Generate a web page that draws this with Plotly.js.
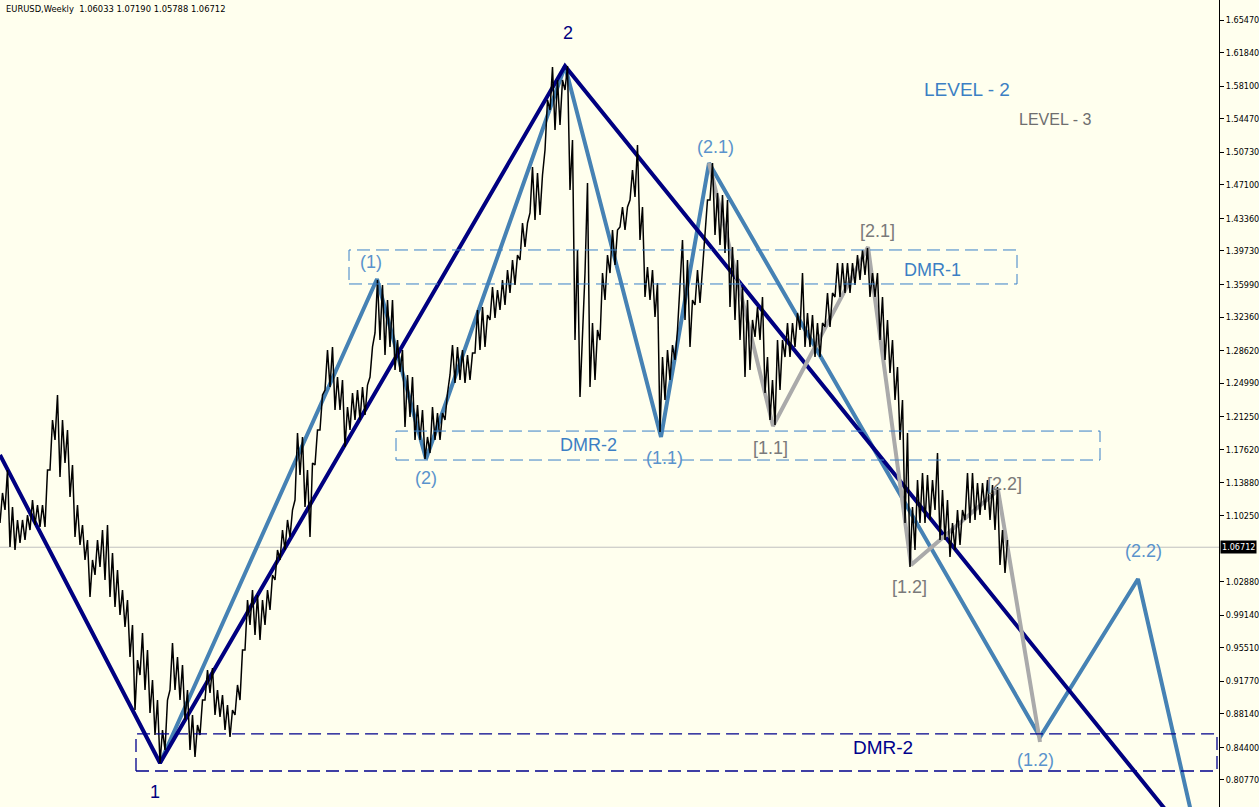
<!DOCTYPE html>
<html>
<head>
<meta charset="utf-8">
<script src="https://cdn.plot.ly/plotly-3.0.1.min.js"></script>
<style>html,body{margin:0;padding:0;background:#FFFFEE;}#chart{width:1259px;height:807px;}</style>
</head>
<body>
<div id="chart"></div>
<script>
// ---- weekly EURUSD price ranges, sampled every 5 weeks (high / low) ----
const priceHigh = [
1.1276,1.1532,1.1119,1.0975,1.0975,1.1030,1.1197,1.1142,1.1142,1.1532,
1.2089,1.2368,1.2089,1.1978,1.1588,1.1142,1.0919,1.0752,1.0529,1.0752,
1.0863,1.0919,1.0607,1.0417,1.0194,1.0083,0.9804,0.9414,0.9715,0.9526,
0.9191,0.8968,0.8634,0.8968,0.9604,0.9448,0.9359,0.9080,0.8801,0.8690,
0.8968,0.9303,0.9325,0.9080,0.9024,0.8913,0.8857,0.9136,0.9526,1.0083,
1.0194,1.0139,1.0083,1.0194,1.0362,1.0640,1.0863,1.0975,1.1086,1.1944,
1.1900,1.1532,1.1610,1.1978,1.2368,1.2869,1.2903,1.2568,1.2535,1.2234,
1.2390,1.2423,1.2457,1.2479,1.2903,1.3649,1.3594,1.3426,1.3426,1.2981,
1.2869,1.2591,1.2568,1.2256,1.2201,1.1900,1.2234,1.2167,1.2167,1.2390,
1.2925,1.2903,1.2869,1.2814,1.2836,1.3315,1.3348,1.3259,1.3571,1.3538,
1.3649,1.3761,1.3872,1.3928,1.4285,1.4285,1.4909,1.4842,1.4820,1.5655,
1.6023,1.5878,1.5878,1.6034,1.5210,1.3984,1.2981,1.4730,1.3170,1.3092,
1.3727,1.3928,1.4207,1.4207,1.4463,1.4463,1.4875,1.5154,1.4463,1.3794,
1.3761,1.3616,1.2791,1.2869,1.2925,1.3092,1.4095,1.3872,1.3426,1.3761,
1.3794,1.4541,1.4953,1.4619,1.4597,1.4541,1.4017,1.3872,1.3571,1.3426,
1.3204,1.3348,1.3460,1.2791,1.2535,1.2981,1.2981,1.3170,1.3170,1.3282,
1.3727,1.3282,1.3259,1.3170,1.3170,1.3505,1.3505,1.3839,1.3839,1.3839,
1.3839,1.3928,1.3984,1.4006,1.3727,1.3727,1.3460,1.3204,1.2981,1.2680,
1.2312,1.1944,1.1119,1.1420,1.1498,1.1476,1.1420,1.1721,1.1309,1.1197,
1.0941,1.1086,1.1086,1.1498,1.1498,1.1387,1.1387,1.1420,1.1365,1.1342,
1.0863,1.0752
];
const priceLow = [
1.0941,1.1086,1.0674,1.0640,1.0718,1.0752,1.0863,1.0919,1.0897,1.0897,
1.1532,1.1866,1.1454,1.1610,1.1231,1.0785,1.0696,1.0529,1.0116,1.0362,
1.0451,1.0306,1.0116,1.0005,0.9916,0.9782,0.9448,0.8857,0.9247,0.9080,
0.8824,0.8578,0.8266,0.8411,0.9080,0.9080,0.8968,0.8746,0.8411,0.8333,
0.8578,0.8968,0.9047,0.8801,0.8779,0.8634,0.8556,0.8801,0.8968,0.9526,
0.9804,0.9693,0.9637,0.9804,0.9972,1.0306,1.0529,1.0640,1.0785,1.1197,
1.1476,1.1119,1.0785,1.1588,1.1978,1.2423,1.2457,1.2201,1.2201,1.1788,
1.1978,1.2089,1.2089,1.2145,1.2568,1.3059,1.2981,1.2814,1.2903,1.2646,
1.2624,1.2011,1.2123,1.1866,1.1866,1.1654,1.1721,1.1866,1.1866,1.2089,
1.2591,1.2501,1.2535,1.2501,1.2535,1.2836,1.2869,1.2903,1.3204,1.3226,
1.3315,1.3371,1.3505,1.3594,1.3872,1.4017,1.4396,1.4318,1.4374,1.5098,
1.5544,1.5321,1.5377,1.5767,1.4652,1.2981,1.2345,1.3727,1.2457,1.2535,
1.2981,1.3426,1.3727,1.3817,1.4240,1.4207,1.4541,1.4574,1.4095,1.3460,
1.3426,1.3237,1.1955,1.2312,1.2535,1.2758,1.3538,1.3204,1.2903,1.3371,
1.3393,1.4095,1.4541,1.4151,1.4039,1.3950,1.3348,1.3204,1.2981,1.2568,
1.2646,1.3014,1.2981,1.2390,1.2089,1.2033,1.2423,1.2791,1.2791,1.2903,
1.3092,1.2903,1.2903,1.2791,1.2791,1.3126,1.3126,1.3460,1.3460,1.3505,
1.3505,1.3594,1.3649,1.3705,1.3460,1.3460,1.2981,1.2758,1.2613,1.2312,
1.1866,1.0941,1.0451,1.0640,1.0941,1.0941,1.0975,1.1086,1.0752,1.0752,
1.0562,1.0640,1.0696,1.0975,1.0941,1.0975,1.1030,1.1086,1.0975,1.0863,
1.0473,1.0384
];
const lastPrice = 1.06712;
const header = "EURUSD,Weekly  1.06033 1.07190 1.05788 1.06712";

// ---- wave zigzags (week index, price) ----
const level1Weeks  = [0, 160, 565, 1219];
const level1Prices = [1.1699, 0.8266, 1.6034, 0.7007];
const level2Weeks  = [160, 377, 426, 565, 661, 709, 1040, 1138, 1215];
const level2Prices = [0.8266, 1.3660, 1.1654, 1.6034, 1.1900, 1.4953, 0.8556, 1.0317, 0.6550];
const level3Weeks  = [709, 773, 868, 911, 998, 1040];
const level3Prices = [1.4953, 1.2022, 1.4017, 1.0473, 1.1309, 0.8500];

// ---- DMR zones [low, high] ----
const dmr1      = [1.3605, 1.3984];
const dmr2Upper = [1.1643, 1.1966];
const dmr2Lower = [0.8177, 0.8590];

// ---- axis ticks ----
const tickPrices = [1.65470,1.61840,1.58100,1.54470,1.50730,1.47100,1.43360,1.39730,1.35990,1.32360,
  1.28620,1.24990,1.21250,1.17620,1.13880,1.10250,1.02880,0.99140,0.95510,0.91770,0.88140,0.84400,0.80770];

// build price scribble (low -> high within each 5-week sample)
const px = [], py = [];
priceHigh.forEach((h, i) => {
  px.push(i * 5); py.push(priceLow[i]);
  px.push(i * 5 + 2.5); py.push(h);
});

const NAVY = '#000080', STEEL = '#4682B4', GRAY = '#AAAAAA';
const traces = [
  {x: level2Weeks, y: level2Prices, mode: 'lines', line: {color: STEEL, width: 4}, hoverinfo: 'skip'},
  {x: level1Weeks, y: level1Prices, mode: 'lines', line: {color: NAVY, width: 4}, hoverinfo: 'skip'},
  {x: level3Weeks, y: level3Prices, mode: 'lines', line: {color: GRAY, width: 4}, hoverinfo: 'skip'},
  {x: px, y: py, mode: 'lines', line: {color: '#000000', width: 1.5}, hoverinfo: 'skip'}
];

const boxDash = '13px,6px';
const BOXBLUE = '#3A80C8';
const shapes = [
  {type: 'line', xref: 'paper', x0: 0, x1: 1, y0: lastPrice, y1: lastPrice, line: {color: '#C0C0C0', width: 1}, layer: 'below'},
  {type: 'rect', x0: 349, x1: 1017, y0: dmr1[0], y1: dmr1[1], line: {color: BOXBLUE, width: 1, dash: boxDash}},
  {type: 'rect', x0: 396, x1: 1100, y0: dmr2Upper[0], y1: dmr2Upper[1], line: {color: BOXBLUE, width: 1, dash: boxDash}},
  {type: 'rect', x0: 136, x1: 1217, y0: dmr2Lower[0], y1: dmr2Lower[1], line: {color: '#00008C', width: 1.3, dash: boxDash}}
];

const LBL = '#5A93CC', GLBL = '#7A7A7A';
const F = 'Liberation Sans, Arial, sans-serif';
function lab(text, x, y, color, size) {
  return {text: text, x: x, y: y, showarrow: false, xanchor: 'center', yanchor: 'middle',
          font: {family: F, size: size || 18, color: color}};
}
const annotations = [
  lab('1', 155, 0.7943, NAVY, 18),
  lab('2', 568, 1.6402, NAVY, 18),
  lab('(1)', 371, 1.3850, LBL),
  lab('(2)', 426, 1.1443, LBL),
  lab('(1.1)', 664, 1.1666, LBL),
  lab('(2.1)', 715, 1.5132, LBL),
  lab('(1.2)', 1035, 0.8300, LBL),
  lab('(2.2)', 1143, 1.0629, LBL),
  lab('[1.1]', 770, 1.1777, GLBL),
  lab('[2.1]', 877, 1.4196, GLBL),
  lab('[1.2]', 909, 1.0228, GLBL),
  lab('[2.2]', 1004, 1.1376, GLBL),
  lab('DMR-1', 932, 1.3761, '#3C7FC4'),
  lab('DMR-2', 588, 1.1810, '#3C7FC4'),
  lab('DMR-2', 883, 0.8434, '#00008C', 19),
  lab('LEVEL - 2', 967, 1.5778, '#3C7FC4', 19),
  lab('LEVEL - 3', 1055, 1.5433, '#6E6E6E', 16),
  {text: header, xref: 'paper', yref: 'paper', x: 0, y: 1, xanchor: 'left', yanchor: 'top',
   xshift: 4, yshift: -1, showarrow: false,
   font: {family: 'DejaVu Sans Condensed, DejaVu Sans, sans-serif', size: 9.3, color: '#000'}},
  {text: lastPrice.toFixed(5), xref: 'paper', x: 1, y: lastPrice, xanchor: 'left', yanchor: 'middle',
   xshift: 1, showarrow: false, bgcolor: '#000000', borderpad: 1,
   font: {family: 'DejaVu Sans Condensed, DejaVu Sans, sans-serif', size: 9, color: '#FFFFFF'}}
];

const layout = {
  width: 1259, height: 807,
  margin: {l: 0, r: 40, t: 0, b: 0, pad: 0},
  paper_bgcolor: '#FFFFEE', plot_bgcolor: '#FFFFEE',
  showlegend: false,
  xaxis: {range: [0, 1219], visible: false, fixedrange: true},
  yaxis: {range: [0.7776, 1.6770], side: 'right', showgrid: false, zeroline: false,
          showline: true, linecolor: '#000', linewidth: 1, ticks: 'outside', ticklen: 4,
          tickcolor: '#000', tickvals: tickPrices, ticktext: tickPrices.map(v => v.toFixed(5)),
          tickfont: {family: 'DejaVu Sans Condensed, DejaVu Sans, sans-serif', size: 9, color: '#000'},
          fixedrange: true},
  shapes: shapes,
  annotations: annotations
};

Plotly.newPlot('chart', traces, layout, {displayModeBar: false, staticPlot: true});
</script>
</body>
</html>
